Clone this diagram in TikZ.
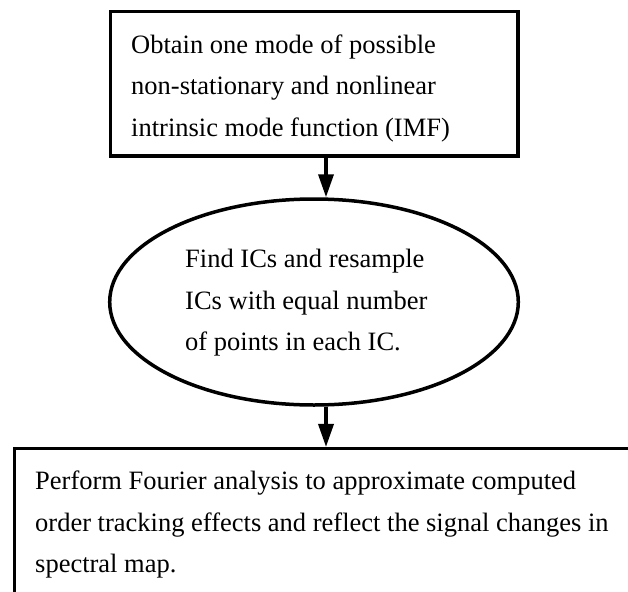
\documentclass[tikz,border=0pt]{standalone}
\usepackage{fontspec}
\setmainfont{Liberation Serif}
\usepackage{tikz}
\usetikzlibrary{positioning, arrows.meta, shapes.geometric, calc}

\begin{document}
\begin{tikzpicture}[x=1pt, y=-1pt,
        box/.style={draw, rectangle, line width=3.5pt, inner sep=0pt},
        oval/.style={draw, ellipse, line width=3.5pt, inner sep=0pt},
        txt/.style={anchor=base west, align=left, inner sep=0pt,
            font=\fontsize{26.5}{41.5}\selectfont},
        flow/.style={line width=3.5pt, -{Triangle[length=23pt, width=15pt]}}]

            % page
            \useasboundingbox (0,0) rectangle (628,591);

            % x of the arrows
            \coordinate (ax) at (326,0);

            % top box
            \node[box, minimum width=407.5pt, minimum height=144.5pt] (top) at (314.25,83.75) {};
            \node[txt] (toptext) at (131,136)
                {Obtain one mode of possible\\non-stationary and nonlinear\\intrinsic mode function (IMF)};

            % ellipse
            \node[oval, minimum width=408.6pt, minimum height=206pt] (ell) at (314,302) {};
            \node[txt] (elltext) at (185,350.5)
                {Find ICs and resample\\ICs with equal number\\of points in each IC.};

            % bottom box
            \node[box, anchor=north west, minimum width=660pt, minimum height=200pt] (bot) at (12.95,446.95) {};
            \node[txt] (bottext) at (35,572.5)
                {Perform Fourier analysis to approximate computed\\order tracking effects and reflect the signal changes in\\spectral map.};

            % arrows
            \draw[flow] (top.south -| ax) -- (ell.north -| ax);
            \draw[flow] (ell.south -| ax) -- (bot.north -| ax);
        \end{tikzpicture}
\end{document}
